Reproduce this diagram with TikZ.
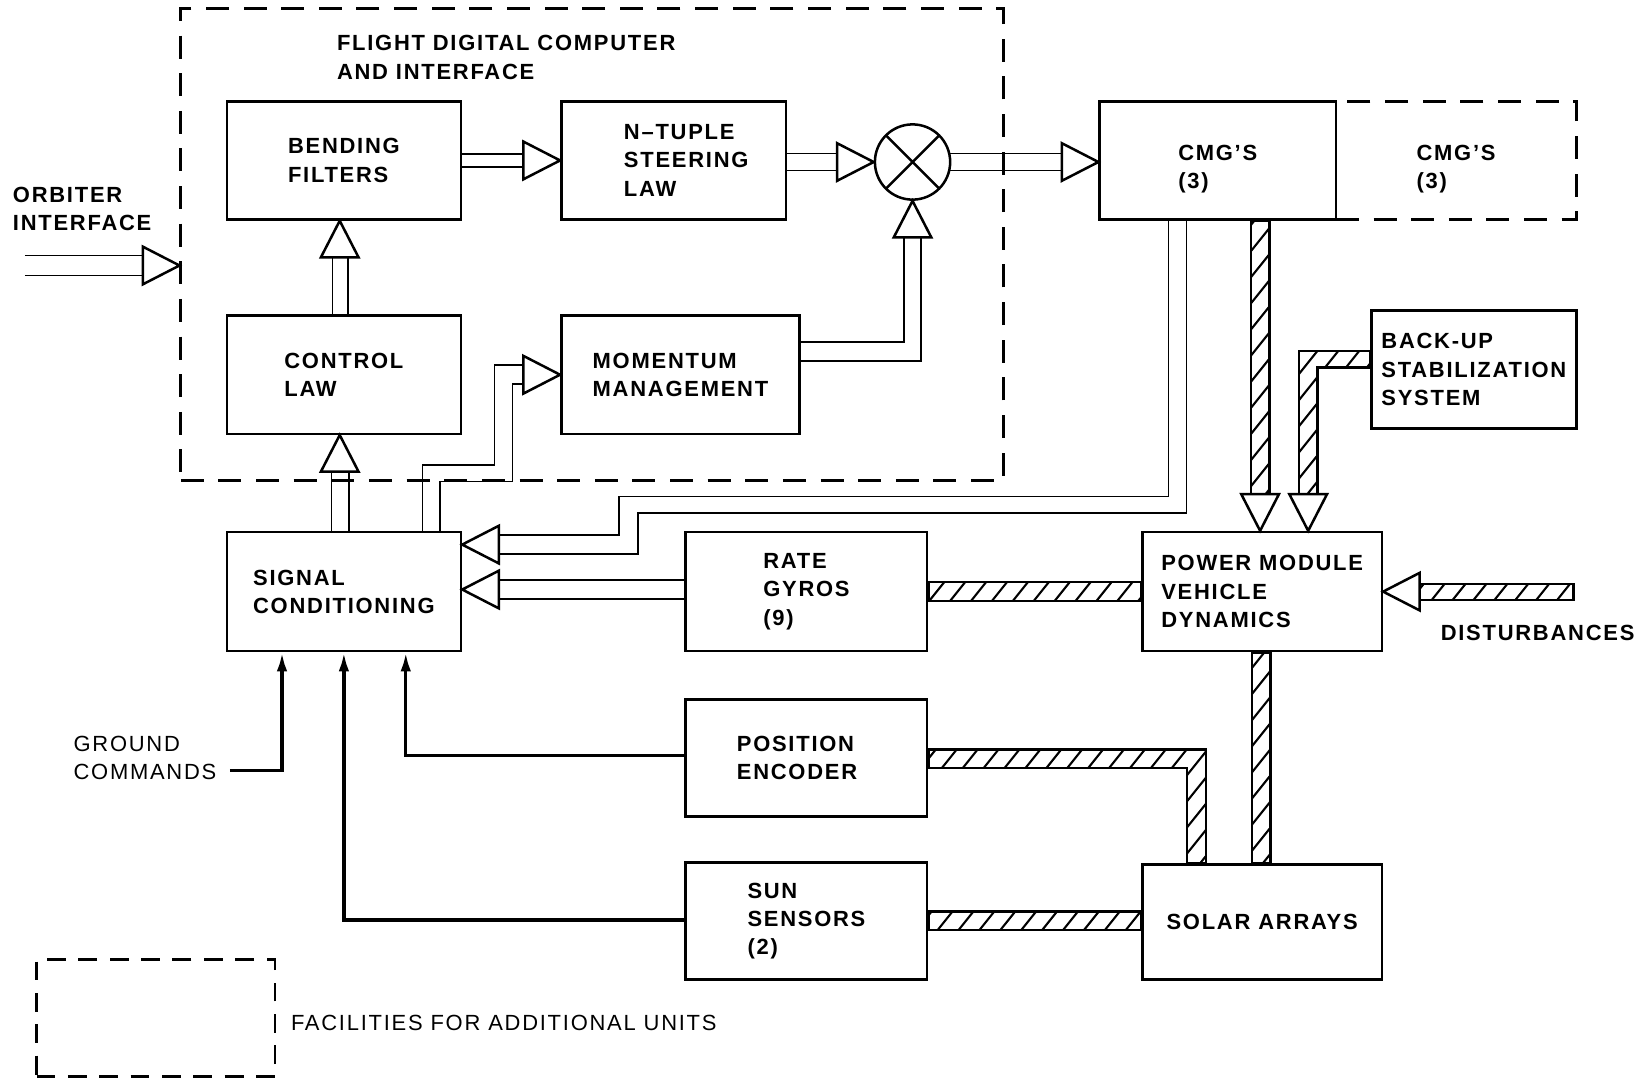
\documentclass[tikz,border=0pt]{standalone}
\usepackage{fontspec}
\setmainfont{Liberation Sans}[LetterSpace=8]
\usetikzlibrary{calc,arrows.meta}
\newcommand\boxfont{\bfseries\fontsize{10.5}{13.5}\selectfont}
\newcommand\plainfont{\mdseries\fontsize{10.5}{13.5}\selectfont}
\newcommand\hatchshape[1]{%
  \begin{scope}
    \clip #1;
    \foreach \hx in {-860,-840,...,1600} \draw[hatchline] (\hx,1036) -- ++(829,-1036);
  \end{scope}
  \draw[barline] #1;
}
\begin{document}
\begin{tikzpicture}[x=0.5pt,y=-0.5pt,
  rect/.style n args={4}{minimum width={(#3-#1)*0.5pt},minimum height={(#4-#2)*0.5pt},
     at={({(#1+#3)/2},{(#2+#4)/2})}},
  box/.style={draw,rectangle,line width=1.2pt,inner sep=0pt,align=left,font=\boxfont},
  dbox/.style={draw,rectangle,line width=1.3pt,inner sep=0pt,align=left,font=\boxfont,dash pattern=on 11pt off 7pt},
  dbl/.style={line width=0.8pt},
  cmd/.style={line width=1.6pt,-{Latex[length=9pt,width=5pt]}},
  txt/.style={align=left,font=\boxfont,inner sep=0pt},
  hatchline/.style={line width=1pt},
  barline/.style={line width=1.1pt,line join=miter},
  pics/htri/.style={code={\draw[line width=1.2pt,fill=white,line join=miter] (0,0) -- (-35,-18) -- (-35,18) -- cycle;}}
]
\useasboundingbox (0,0) rectangle (1568,1036);

% ---------- containers and boxes ----------
\node[dbox,rect={173}{8}{960}{460}] (fdc) {};
\node[txt,anchor=west] (title) at (322,55) {FLIGHT DIGITAL COMPUTER\\AND INTERFACE};
\node[box,rect={217}{97}{441}{210}] (bend) {BENDING\\FILTERS};
\node[box,rect={537}{97}{752}{210}] (ntuple) {\hspace{12pt}N–TUPLE\\\hspace{12pt}STEERING\\\hspace{12pt}LAW};
\node[draw,circle,minimum size=36pt,inner sep=0pt,line width=1.2pt,
  path picture={\draw[line width=1.2pt] (path picture bounding box.north west) -- (path picture bounding box.south east)
   (path picture bounding box.north east) -- (path picture bounding box.south west);}] (sum) at (873,155) {};
\node[dbox,rect={1278}{97}{1508}{210}] (cmg2) {\rule{0pt}{15.6pt}CMG’S\\(3)};
\node[box,rect={1052}{97}{1278}{210}] (cmg) {\rule{0pt}{15.6pt}CMG’S\\(3)};
\node[box,rect={217}{302}{441}{415}] (ctrl) {CONTROL\\LAW};
\node[box,rect={537}{302}{765}{415}] (mom) {MOMENTUM\\MANAGEMENT};
\node[box,rect={217}{509}{441}{623}] (sig) {SIGNAL\\CONDITIONING};
\node[box,rect={656}{509}{887}{623}] (rate) {RATE\\GYROS\\(9)};
\node[box,rect={1093}{509}{1322}{623}] (power) {POWER MODULE\\VEHICLE\\DYNAMICS};
\node[box,rect={1312}{297}{1508}{410}] (backup) {BACK-UP\\STABILIZATION\\SYSTEM};
\node[box,rect={656}{669}{887}{781}] (pos) {POSITION\rule{9pt}{0pt}\\ENCODER\rule{9pt}{0pt}};
\node[box,rect={656}{825}{887}{937}] (sun) {SUN\\SENSORS\\(2)};
\node[box,rect={1093}{827}{1322}{937}] (solar) {SOLAR ARRAYS};
\node[dbox,dash pattern=on 9pt off 6pt,rect={35}{918}{263}{1030}] (fac) {};
\node[txt,anchor=west,font=\plainfont] (faclbl) at (278,979) {FACILITIES FOR ADDITIONAL UNITS};
\node[txt,anchor=west] (orb) at (12,200) {ORBITER\\INTERFACE};
\node[txt,anchor=west,font=\plainfont] (ground) at (70,725) {GROUND\\COMMANDS};
\node[txt] (dist) at (1471,606) {DISTURBANCES};

% ---------- hatched (physical) links ----------
\hatchshape{($(cmg.south)+(32,0)$) rectangle ($(power.north)+(7,-34)$)}
\hatchshape{($(backup.west)+(0,-18)$) -| ($(power.north)+(35,-34)$) -- ($(power.north)+(53,-34)$) |- ($(backup.west)+(0,-2)$) -- cycle}
\hatchshape{($(rate.east)+(0,-9)$) rectangle ($(power.west)+(0,9)$)}
\hatchshape{($(power.south)+(-10,0)$) rectangle ($(solar.north)+(8,0)$)}
\hatchshape{($(pos.east)+(0,-8)$) -| ($(solar.north west)+(62,0)$) -- ($(solar.north west)+(44,0)$) |- ($(pos.east)+(0,10)$) -- cycle}
\hatchshape{($(sun.east)+(0,-9)$) rectangle ($(solar.west |- sun.east)+(0,9)$)}
\coordinate (disttip) at (power.east);
\hatchshape{($(disttip)+(34,-7)$) rectangle ($(disttip)+(182,8)$)}
\pic[rotate=-90] at ($(power.north)+(-2,0)$) {htri};
\pic[rotate=-90] at ($(power.north)+(44,0)$) {htri};
\pic[rotate=180] at (disttip) {htri};

% ---------- double-line signal links ----------
\coordinate (orbtip) at ($(fdc.west)+(0,20)$);
\draw[dbl] ($(orbtip)+(-148,-9.5)$) -- ($(orbtip)+(-35,-9.5)$);
\draw[dbl] ($(orbtip)+(-148,9.5)$) -- ($(orbtip)+(-35,9.5)$);
\pic at (orbtip) {htri};

\draw[dbl] ($(bend.east)+(0,-6)$) -- ($(ntuple.west)+(-35,-6)$);
\draw[dbl] ($(bend.east)+(0,6)$) -- ($(ntuple.west)+(-35,6)$);
\pic at (ntuple.west) {htri};

\draw[dbl] ($(ntuple.east |- sum.west)+(0,-8)$) -- ($(sum.west)+(-35,-8)$);
\draw[dbl] ($(ntuple.east |- sum.west)+(0,8)$) -- ($(sum.west)+(-35,8)$);
\pic at (sum.west) {htri};

\draw[dbl] ($(sum.east)+(-1,-8)$) -- ($(sum.east -| cmg.west)+(-35,-8)$);
\draw[dbl] ($(sum.east)+(-1,8)$) -- ($(sum.east -| cmg.west)+(-35,8)$);
\pic at (sum.east -| cmg.west) {htri};

\draw[dbl] ($(ctrl.north)+(-11,0)$) -- ($(bend.south)+(-11,34)$);
\draw[dbl] ($(ctrl.north)+(4,0)$) -- ($(bend.south)+(4,34)$);
\pic[rotate=90] at ($(bend.south)+(-4,0)$) {htri};

\draw[dbl] ($(sig.north)+(-12,0)$) -- ($(ctrl.south)+(-12,34)$);
\draw[dbl] ($(sig.north)+(5,0)$) -- ($(ctrl.south)+(5,34)$);
\pic[rotate=90] at ($(ctrl.south)+(-4,0)$) {htri};

\draw[dbl] ($(mom.east)+(0,-31)$) -| ($(sum.south)+(-8,35)$);
\draw[dbl] ($(mom.east)+(0,-13)$) -| ($(sum.south)+(8,35)$);
\pic[rotate=90] at (sum.south) {htri};

\coordinate (momtip) at (mom.west);
\draw[dbl] ($(sig.north east)+(-38,0)$) |- ($(sig.north east)+(31,-63)$) |- ($(momtip)+(-35,-9)$);
\draw[dbl] ($(sig.north east)+(-21,0)$) |- ($(sig.north east)+(48,-47)$) |- ($(momtip)+(-35,9)$);
\pic at (momtip) {htri};

\coordinate (sigtipA) at ($(sig.east)+(0,-45)$);
\draw[dbl] ($(cmg.south)+(-47,0)$) |- ($(sigtipA)+(150,-46)$) |- ($(sigtipA)+(35,-9)$);
\draw[dbl] ($(cmg.south)+(-30,0)$) |- ($(sigtipA)+(168,-30)$) |- ($(sigtipA)+(35,9)$);
\pic[rotate=180] at (sigtipA) {htri};

\coordinate (sigtipB) at ($(sig.east)+(0,-2)$);
\draw[dbl] ($(sigtipB -| rate.west)+(0,-9)$) -- ($(sigtipB)+(35,-9)$);
\draw[dbl] ($(sigtipB -| rate.west)+(0,9)$) -- ($(sigtipB)+(35,9)$);
\pic[rotate=180] at (sigtipB) {htri};

% ---------- single command lines ----------
\coordinate (gnd) at (220,737);
\draw[cmd] (gnd) -| ($(sig.south west)+(54,0)$);
\draw[cmd] ($(pos.west)+(0,-2)$) -| ($(sig.south east)+(-54,0)$);
\draw[cmd] ($(sun.west)+(0,-1)$) -| (sig.south);
\end{tikzpicture}
\end{document}
